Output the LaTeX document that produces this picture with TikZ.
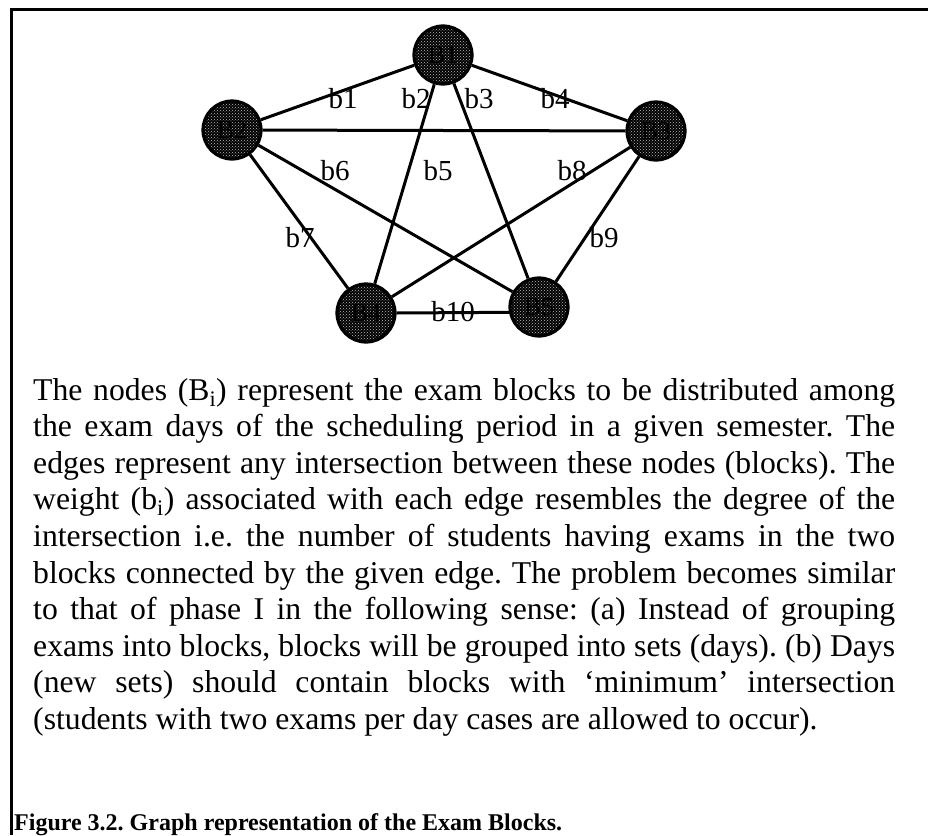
\documentclass[tikz,border=0pt]{standalone}
\usepackage{fontspec}
\setmainfont{Liberation Serif}
\usetikzlibrary{patterns}
\frenchspacing
\begin{document}
\begin{tikzpicture}[x=1pt,y=-1pt,
  block/.style={circle, draw=black, line width=3.2pt, minimum size=58pt, inner sep=0pt,
    preaction={fill=black}, pattern=crosshatch dots, pattern color=white!75!black,
    font=\fontsize{26}{26}\selectfont},
  edge/.style={line width=3pt},
  wlabel/.style={inner sep=0pt, font=\fontsize{29}{29}\selectfont},
  para/.style={inner sep=0pt, anchor=base west, font=\fontsize{31.7}{36}\selectfont},
  frame/.style={line width=3pt}]
\useasboundingbox (0,0) rectangle (928,835);
% frame
\draw[frame] (928,9) -- (11,9) -- (11,835);
% blocks
\node[block] (B1) at (443,55) {B1};
\node[block] (B2) at (232,130) {B2};
\node[block] (B3) at (656,131) {B3};
\node[block] (B4) at (366,313) {B4};
\node[block] (B5) at (539,307) {B5};
% edges
\draw[edge] (B2) -- (B1);
\draw[edge] (B4) -- (B1);
\draw[edge] (B5) -- (B1);
\draw[edge] (B1) -- (B3);
\draw[edge] (B2) -- (B3);
\draw[edge] (B2) -- (B5);
\draw[edge] (B2) -- (B4);
\draw[edge] (B3) -- (B4);
\draw[edge] (B3) -- (B5);
\draw[edge] (B4.east) -- (B5.190);
% weights
\node[wlabel] (w1) at (343,99) {b1};
\node[wlabel] (w2) at (416,99) {b2};
\node[wlabel] (w3) at (479,99) {b3};
\node[wlabel] (w4) at (555,99) {b4};
\node[wlabel] (w6) at (335,171) {b6};
\node[wlabel] (w5) at (438,171) {b5};
\node[wlabel] (w8) at (572,171) {b8};
\node[wlabel] (w7) at (300,238) {b7};
\node[wlabel] (w9) at (604,238) {b9};
\node[wlabel] (w10) at (453,312) {b10};
% paragraph
\node[para] (l1) at (33,400.0) {\makebox[862pt][s]{The nodes (B\textsubscript{i}) represent the exam blocks to be distributed among}};
\node[para] (l2) at (33,436.6) {\makebox[862pt][s]{the exam days of the scheduling period in a given semester. The}};
\node[para] (l3) at (33,473.2) {\makebox[862pt][s]{edges represent any intersection between these nodes (blocks). The}};
\node[para] (l4) at (33,509.8) {\makebox[862pt][s]{weight (b\textsubscript{i}) associated with each edge resembles the degree of the}};
\node[para] (l5) at (33,546.4) {\makebox[862pt][s]{intersection i.e. the number of students having exams in the two}};
\node[para] (l6) at (33,583.0) {\makebox[862pt][s]{blocks connected by the given edge. The problem becomes similar}};
\node[para] (l7) at (33,619.6) {\makebox[862pt][s]{to that of phase I in the following sense: (a) Instead of grouping}};
\node[para] (l8) at (33,656.2) {\makebox[862pt][s]{exams into blocks, blocks will be grouped into sets (days). (b) Days}};
\node[para] (l9) at (33,692.8) {\makebox[862pt][s]{(new sets) should contain blocks with ‘minimum’ intersection}};
\node[para] (l10) at (33,729.4) {(students with two exams per day cases are allowed to occur).};
% caption
\node[anchor=base west, inner sep=0pt, font=\bfseries\fontsize{24}{24}\selectfont] (cap) at (14,830) {Figure 3.2. Graph representation of the Exam Blocks.};
\end{tikzpicture}
\end{document}
